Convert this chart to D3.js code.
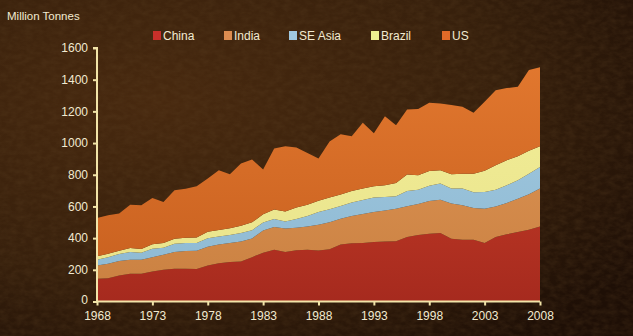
<!DOCTYPE html>
<html><head><meta charset="utf-8">
<script src="https://cdn.jsdelivr.net/npm/d3@7/dist/d3.min.js"></script>
<style>html,body{margin:0;padding:0;background:#2e1a0c;overflow:hidden}</style>
</head><body>
<svg id="chart" width="633" height="336"></svg>
<script>
const years = d3.range(1968, 2009);
const seriesNames = ["China", "India", "SE Asia", "Brazil", "US"];
// cumulative tops
const chinaTop  = [143,147,164,175,175,190,200,207,207,205,228,242,249,253,280,308,327,312,323,327,322,330,360,368,370,375,378,381,407,420,428,432,396,390,390,369,407,424,438,453,474];
const indiaTop  = [228,238,255,264,264,280,295,312,318,320,345,360,369,378,398,448,470,460,466,473,485,500,523,540,552,565,575,586,601,615,635,643,618,607,590,586,600,622,649,677,713];
const seAsiaTop = [264,280,300,312,308,333,340,365,369,370,400,410,420,432,450,498,520,505,520,540,565,582,602,625,640,656,660,664,698,705,730,745,713,713,690,691,705,734,765,807,849];
const brazilTop = [285,301,320,337,331,362,370,396,402,404,440,452,462,478,500,550,580,568,594,610,636,656,675,698,713,727,734,748,801,797,824,828,803,807,807,825,860,892,917,951,980];
const usTop     = [527,544,555,611,607,653,628,702,712,727,776,828,803,871,896,833,966,980,972,938,902,1010,1056,1043,1128,1062,1170,1113,1212,1215,1254,1250,1240,1229,1191,1260,1334,1347,1355,1461,1478];
const yTicks = [0,200,400,600,800,1000,1200,1400,1600];
const xTicks = [1968,1973,1978,1983,1988,1993,1998,2003,2008];

const china = chinaTop;
const india = indiaTop.map((v,i)=>v-chinaTop[i]);
const seAsia = seAsiaTop.map((v,i)=>v-indiaTop[i]);
const brazil = brazilTop.map((v,i)=>v-seAsiaTop[i]);
const us = usTop.map((v,i)=>v-brazilTop[i]);
const values = [china, india, seAsia, brazil, us];
const table = years.map((y,i)=>{const o={year:y}; seriesNames.forEach((n,k)=>o[n]=values[k][i]); return o;});

const svg = d3.select("#chart");
const defs = svg.append("defs");

// background
const bg = defs.append("radialGradient").attr("id","bg").attr("cx","0.25").attr("cy","0.3").attr("r","0.9");
bg.append("stop").attr("offset","0").attr("stop-color","#48290f");
bg.append("stop").attr("offset","0.6").attr("stop-color","#37200c");
bg.append("stop").attr("offset","1").attr("stop-color","#1e0f06");
svg.append("rect").attr("width",633).attr("height",336).attr("fill","url(#bg)");
const f = defs.append("filter").attr("id","tex").attr("x",0).attr("y",0).attr("width","100%").attr("height","100%");
f.append("feTurbulence").attr("type","fractalNoise").attr("baseFrequency","0.12 0.2").attr("numOctaves",3).attr("seed",3).attr("result","n");
f.append("feColorMatrix").attr("type","matrix")
 .attr("values","0 0 0 0 0.12  0 0 0 0 0.06  0 0 0 0 0.02  0 0 0 -1.4 1.0");
svg.append("rect").attr("width",633).attr("height",336).attr("filter","url(#tex)").attr("opacity",0.3);

const colors = {
  "China":   ["#d4462c","#a62a1e"],
  "India":   ["#e49a5c","#c98040"],
  "SE Asia": ["#a6cce2","#8cb8d2"],
  "Brazil":  ["#f4f09a","#e8e28a"],
  "US":      ["#e47a30","#c65e1e"]
};
const legendColors = {"China":"#c8302a","India":"#dc8c50","SE Asia":"#a0c8e0","Brazil":"#eeee90","US":"#e06a28"};

const x = d3.scaleLinear().domain([1968,2008]).range([97,540]);
const y = d3.scaleLinear().domain([0,1600]).range([301.5,48]);

seriesNames.forEach((n,i)=>{
  const g = defs.append("linearGradient").attr("id","g"+i).attr("gradientUnits","userSpaceOnUse")
    .attr("x1",0).attr("y1",40).attr("x2",0).attr("y2",302);
  g.append("stop").attr("offset","0").attr("stop-color",colors[n][0]);
  g.append("stop").attr("offset","1").attr("stop-color",colors[n][1]);
});

const stack = d3.stack().keys(seriesNames);
const layers = stack(table);
const area = d3.area().x(d=>x(d.data.year)).y0(d=>y(d[0])).y1(d=>y(d[1]));
svg.append("g").selectAll("path").data(layers).join("path")
  .attr("d",area).attr("fill",(d,i)=>"url(#g"+i+")");

const axisColor = "#f2e4a8";
const textColor = "#f2ead0";
const font = "'Liberation Sans', Arial, sans-serif";

const yAxis = svg.append("g").attr("transform","translate(97,0)")
  .call(d3.axisLeft(y).tickValues(yTicks).tickSize(4).tickPadding(5).tickFormat(d3.format("d")));
const xAxis = svg.append("g").attr("transform","translate(0,301.5)")
  .call(d3.axisBottom(x).tickValues(xTicks).tickSize(4).tickPadding(6).tickFormat(d3.format("d")));
[yAxis,xAxis].forEach(a=>{
  a.select(".domain").attr("stroke",axisColor).attr("stroke-width",2);
  a.selectAll(".tick line").attr("stroke",axisColor).attr("stroke-width",2);
  a.selectAll("text").attr("fill",textColor).style("font-family",font).style("font-size","12px");
});
yAxis.select(".domain").attr("d","M-4,48H0V301.5");
xAxis.select(".domain").attr("d","M97,0H540");
yAxis.selectAll(".tick text").filter(d=>d===0).attr("dy","0.2em");

svg.append("text").attr("x",7).attr("y",20).text("Million Tonnes")
  .attr("fill",textColor).style("font-family",font).style("font-size","11.5px");

const legendX = [153,224,289,371,442];
const lg = svg.append("g");
seriesNames.forEach((n,i)=>{
  lg.append("rect").attr("x",legendX[i]).attr("y",31).attr("width",8).attr("height",9).attr("fill",legendColors[n]);
  lg.append("text").attr("x",legendX[i]+10).attr("y",40).text(n)
    .attr("fill",textColor).style("font-family",font).style("font-size","12px");
});
</script>
</body></html>
